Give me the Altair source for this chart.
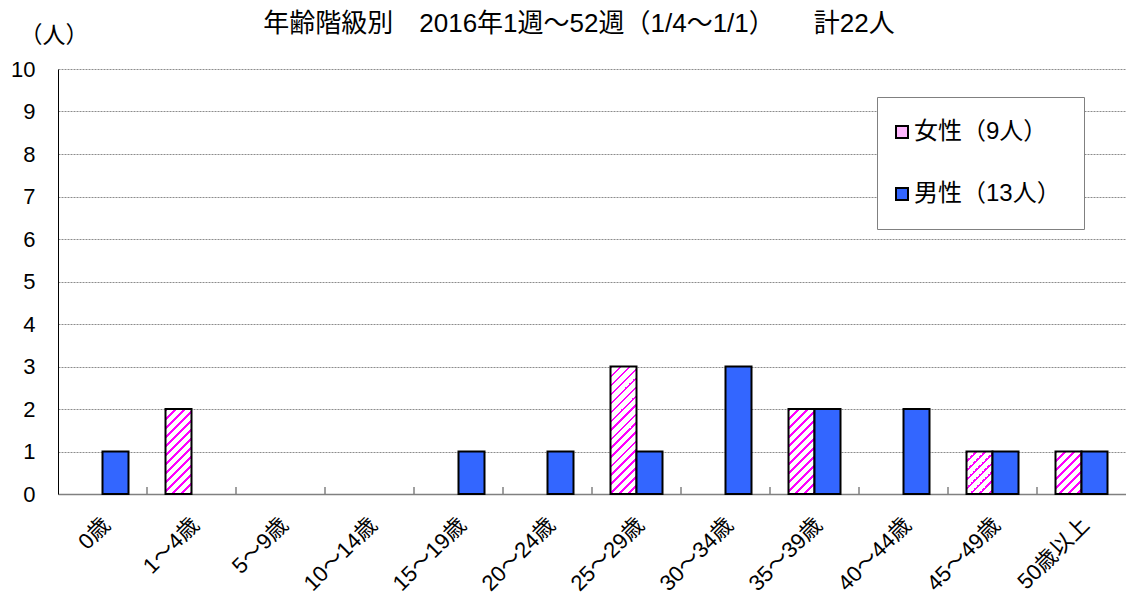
import altair as alt
import pandas as pd

# ---- data ----
categories = ["0歳", "1～4歳", "5～9歳", "10～14歳", "15～19歳", "20～24歳",
              "25～29歳", "30～34歳", "35～39歳", "40～44歳", "45～49歳", "50歳以上"]
female_counts = [0, 2, 0, 0, 0, 0, 3, 0, 2, 0, 1, 1]
male_counts = [1, 0, 0, 0, 1, 1, 1, 3, 2, 2, 1, 1]
female_label = "女性（9人）"
male_label = "男性（13人）"
series_labels = [female_label, male_label]
y_ticks = list(range(0, 11))
title_text = "年齢階級別　2016年1週～52週（1/4～1/1）　　計22人"
y_title = "（人）"

# ---- styling ----
FONT = "Arial, Liberation Sans, Noto Sans CJK JP, sans-serif"
W, H = 1068, 425
Y_MAX = 10
BAR_W = 26.0
STEP = W / len(categories)
UNIT_PX = H / Y_MAX
MAGENTA = "#FF00FF"
WHITE = "#FFFFFF"
BLUE = "#3366FF"
LEGEND_PINK = "#FFB8FF"

rows = []
for c, f, m in zip(categories, female_counts, male_counts):
    rows.append({"cat": c, "sex": female_label, "n": f})
    rows.append({"cat": c, "sex": male_label, "n": m})
df = pd.DataFrame(rows)


def hatch(units):
    """Diagonal stripe fill (lower-left to upper-right) as a linear gradient."""
    h = units * UNIT_PX
    w = BAR_W
    period = 9.0
    frac = 0.28
    dt = period * w / (w * w + h * h)
    tmax = (w + h) * w / (w * w + h * h)
    stops = []
    k = 0
    while k * dt < min(1.0, tmax + dt):
        a = k * dt
        b = min(a + frac * dt, 1.0)
        c = min((k + 1) * dt, 1.0)
        stops += [(a, MAGENTA), (b, MAGENTA), (b, WHITE), (c, WHITE)]
        k += 1
    return alt.LinearGradient(
        gradient="linear", x1=0, y1=0, x2=1, y2=h / w,
        stops=[alt.GradientStop(color=col, offset=off) for off, col in stops],
    )


x_axis = alt.Axis(
    title=None, labelAngle=315, labelAlign="right", labelBaseline="middle",
    labelPadding=27, labelOffset=4, labelFontSize=22, labelFont=FONT,
    labelColor="black", ticks=False, domainColor="#808080", domainWidth=1.5,
    grid=False,
)
x_scale = alt.Scale(domain=categories, paddingInner=0, paddingOuter=0)

y_axis = alt.Axis(
    values=y_ticks, title=y_title, titleAngle=0, titleX=-39, titleY=-34,
    titleAlign="left", titleBaseline="middle", titleFontSize=23,
    titleFont=FONT, titleFontWeight="normal", titleColor="black",
    labelFontSize=22, labelFont=FONT, labelColor="black", labelPadding=23,
    ticks=False, domainColor="black", domainWidth=1,
    gridColor="#8c8c8c", gridDash=[2, 1], gridWidth=1,
)
y_scale = alt.Scale(domain=[0, Y_MAX], nice=False)

po = (STEP / BAR_W - 2) / 2
xo_scale = alt.Scale(domain=series_labels, paddingInner=0, paddingOuter=po)

base = alt.Chart(df)

x_enc = alt.X("cat:N", scale=x_scale, axis=x_axis)
xo_enc = alt.XOffset("sex:N", scale=xo_scale)
y_enc = alt.Y("n:Q", scale=y_scale, axis=y_axis)

male_layer = base.transform_filter(
    f"datum.sex === '{male_label}' && datum.n > 0"
).mark_bar(stroke="black", strokeWidth=2).encode(
    x=x_enc, xOffset=xo_enc, y=y_enc,
    color=alt.Color(
        "sex:N",
        scale=alt.Scale(domain=series_labels, range=[LEGEND_PINK, BLUE]),
        legend=alt.Legend(
            title=None, orient="none", legendX=819, legendY=28,
            labelFont=FONT, labelFontSize=24, labelColor="black",
            labelExpr="datum.label + '　'",
            symbolType="square", symbolSize=144,
            symbolStrokeColor="black", symbolStrokeWidth=2,
            symbolOffset=-10,
            rowPadding=38, padding=23, labelOffset=0,
            strokeColor="#808080", fillColor="white",
        ),
    ),
)

female_layers = []
for hval in sorted(set(v for v in female_counts if v > 0)):
    female_layers.append(
        base.transform_filter(
            f"datum.sex === '{female_label}' && datum.n === {hval}"
        ).mark_bar(fill=hatch(hval), stroke="black", strokeWidth=2).encode(
            x=x_enc, xOffset=xo_enc, y=y_enc,
        )
    )

tick_df = pd.DataFrame({"cat": categories[1:]})
tick_layer = alt.Chart(tick_df).mark_rule(color="#808080", strokeWidth=1.5).encode(
    x=alt.X("cat:N", scale=x_scale, axis=x_axis, bandPosition=0),
    y=alt.value(H),
    y2=alt.value(H - 7),
)

chart = alt.layer(tick_layer, *female_layers, male_layer).properties(
    width=W, height=H,
    title=alt.Title(title_text, font=FONT, fontSize=26, fontWeight="normal",
                    color="black", anchor="middle", dx=-13, offset=0, dy=13),
    padding={"left": 50, "top": 61, "right": 0, "bottom": 105},
    autosize=alt.AutoSizeParams(type="none"),
).configure_view(stroke=None)

chart.save("out.html", embed_options={"renderer": "svg", "actions": False})
